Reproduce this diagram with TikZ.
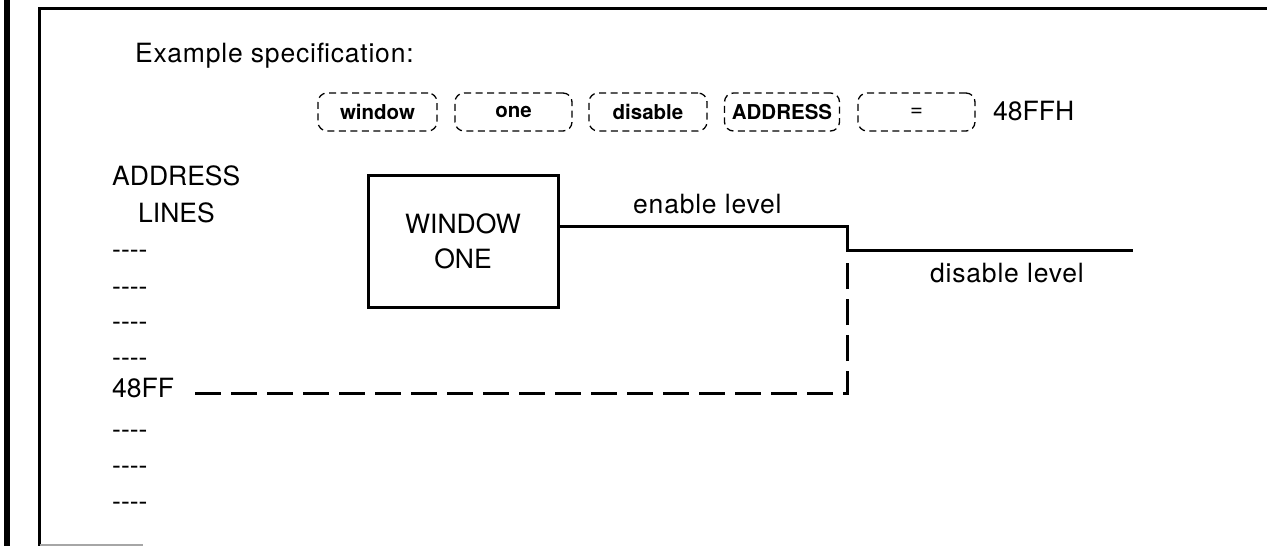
\documentclass[tikz,border=0pt]{standalone}
\usepackage{fontspec}
\setmainfont{TeX Gyre Heros}
\newfontfamily\spc[LetterSpace=3]{TeX Gyre Heros}
\begin{document}
\begin{tikzpicture}[x=1pt,y=-1pt,
  lbl/.style={inner sep=0pt,anchor=base west,font=\fontsize{26.5}{30}\selectfont},
  lbls/.style={inner sep=0pt,anchor=base west,font=\spc\fontsize{26.5}{30}\selectfont},
  kw/.style={draw,line width=1.3pt,dash pattern=on 7pt off 4.5pt,rounded corners=9pt,
    minimum height=38pt,inner sep=0pt,font=\bfseries\fontsize{20.5}{24}\selectfont},
  solidline/.style={line width=3pt},
  dashline/.style={line width=3pt,dash pattern=on 26pt off 10pt}]
\useasboundingbox (0,0) rectangle (1267,546);
% frame
\draw[line width=6pt] (7,0) -- (7,546);
\draw[line width=3pt] (39.5,546) -- (39.5,8.5) -- (1267,8.5);
\draw[line width=1.5pt,black!35] (39.5,545) -- (143,545);
% heading
\node[lbls] (ex) at (135,62) {Example specification:};
% keyword boxes
\node[kw,minimum width=119pt] (k1) at (377.5,112) {window};
\node[kw,minimum width=117pt] (k2) at (513.5,112) {one};
\node[kw,minimum width=118pt] (k3) at (648,112) {disable};
\node[kw,minimum width=115pt] (k4) at (782,112) {ADDRESS};
\node[kw,minimum width=117pt,font=\fontsize{22}{24}\selectfont] (k5) at (916.5,112) {=};
\node[lbl] (val) at (993,120) {48FFH};
% address lines
\node[lbl] (al1) at (112,185) {ADDRESS};
\node[lbl] (al2) at (138,222) {LINES};
\node[lbl] (r1) at (112,258) {-{}-{}-{}-};
\node[lbl] (r2) at (112,295) {-{}-{}-{}-};
\node[lbl] (r3) at (112,330) {-{}-{}-{}-};
\node[lbl] (r4) at (112,366) {-{}-{}-{}-};
\node[lbl] (r48) at (112,397) {48FF};
\node[lbl] (r6) at (112,438) {-{}-{}-{}-};
\node[lbl] (r7) at (112,474) {-{}-{}-{}-};
\node[lbl] (r8) at (112,510) {-{}-{}-{}-};
% window box
\node[draw,line width=3pt,minimum width=190pt,minimum height=132pt,align=center,
  inner sep=0pt,font=\fontsize{26.5}{35}\selectfont] (win) at (463,241) {WINDOW\\ONE};
% signal levels
\coordinate (stepTop) at (847,226);
\coordinate (stepBot) at (847,250);
\coordinate (disEnd) at (1133,250);
\draw[solidline] (win.east |- stepTop) -- (stepTop) -- (stepBot) -- (disEnd);
\node[lbls] (en) at (633,213) {enable level};
\node[lbls] (dis) at (930,282) {disable level};
% dashed address link
\coordinate (dA) at (195,393);
\coordinate (dB) at (847,393);
\coordinate (dC) at (847,262);
\draw[dashline] (dA) -- (dB) -- (dC);
\end{tikzpicture}
\end{document}
